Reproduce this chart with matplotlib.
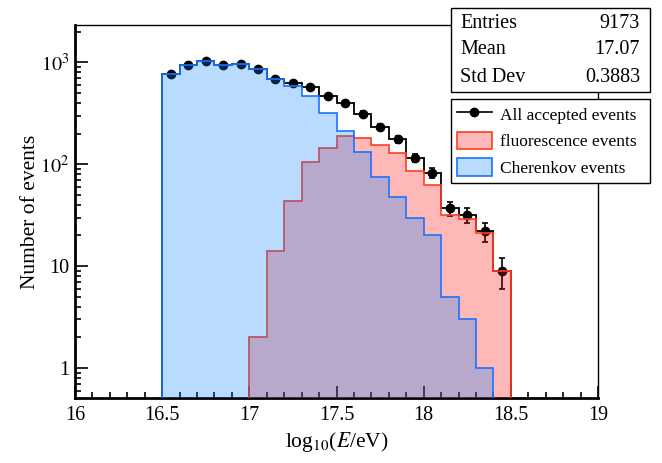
import numpy as np
import matplotlib
matplotlib.use("Agg")
from matplotlib import pyplot as plt
from matplotlib.lines import Line2D
from matplotlib.patches import Patch, Rectangle
from matplotlib.ticker import FixedLocator, FixedFormatter, MultipleLocator, LogLocator, NullFormatter

plt.rcParams['font.family'] = ['Liberation Serif', 'DejaVu Serif']
plt.rcParams['mathtext.fontset'] = 'stix'

# histogram contents, bin width 0.1 in log10(E/eV)
cherenkov_start = 16.5
cherenkov_counts = [772, 940, 1028, 953, 961, 869, 680, 591, 470, 321,
                    210, 132, 75, 48, 30, 20, 5, 3, 1]
fluor_start = 17.0
fluor_counts = [2, 14, 44, 105, 145, 190, 181, 156, 128, 85, 63, 32, 29, 21, 9]
bin_width = 0.1

x_ticks = [16, 16.5, 17, 17.5, 18, 18.5, 19]
x_ticklabels = ["16", "16.5", "17", "17.5", "18", "18.5", "19"]
y_ticks = [1, 10, 100, 1000]
y_ticklabels = ["1", "10", "$10^2$", "$10^3$"]

stats_labels = ["Entries", "Mean", "Std Dev"]
stats_values = ["9173", "17.07", "0.3883"]
legend_labels = ["All accepted events", "fluorescence events", "Cherenkov events"]

blue_line = (0.1, 0.45, 1.0)
blue_fill = (0.0, 0.5, 1.0, 0.28)
red_line = (1.0, 0.24, 0.12)
red_fill = (1.0, 0.0, 0.0, 0.28)

cher = np.array(cherenkov_counts, dtype=float)
fluor = np.array(fluor_counts, dtype=float)
cher_edges = cherenkov_start + bin_width * np.arange(len(cher) + 1)
fluor_edges = fluor_start + bin_width * np.arange(len(fluor) + 1)

# total = sum of both classes on the common binning
all_edges = np.round(np.arange(16.5, 18.5 + 1e-9, bin_width), 2)
total = np.zeros(len(all_edges) - 1)
i0 = int(round((cherenkov_start - 16.5) / bin_width))
total[i0:i0 + len(cher)] += cher
i1 = int(round((fluor_start - 16.5) / bin_width))
total[i1:i1 + len(fluor)] += fluor
centers = 0.5 * (all_edges[:-1] + all_edges[1:])

fig = plt.figure(figsize=(6.62, 4.63), dpi=100)
ax = fig.add_axes([75 / 662, 65 / 463, 523 / 662, 373 / 463])

base = 1e-3
# black histogram first, fills go over it with transparency
ax.stairs(total, all_edges, baseline=base, color='black', lw=1.3, zorder=1)
ax.errorbar(centers, total, yerr=np.sqrt(total), fmt='o', color='black',
            ms=6, lw=1.2, capsize=2.5, capthick=1.2, zorder=2)

ax.stairs(fluor, fluor_edges, baseline=base, fill=True, facecolor=red_fill,
          edgecolor='none', zorder=3)
ax.stairs(fluor, fluor_edges, baseline=base, color=red_line, lw=1.2, zorder=4)
ax.stairs(cher, cher_edges, baseline=base, fill=True, facecolor=blue_fill,
          edgecolor='none', zorder=5)
ax.stairs(cher, cher_edges, baseline=base, color=blue_line, lw=1.2, zorder=6)

ax.set_xlim(16, 19)
ax.set_yscale('log')
ax.set_ylim(0.508, 2330)

ax.xaxis.set_major_locator(FixedLocator(x_ticks))
ax.xaxis.set_major_formatter(FixedFormatter(x_ticklabels))
ax.xaxis.set_minor_locator(MultipleLocator(0.1))
ax.yaxis.set_major_locator(FixedLocator(y_ticks))
ax.yaxis.set_major_formatter(FixedFormatter(y_ticklabels))
ax.yaxis.set_minor_locator(LogLocator(base=10, subs=np.arange(2, 10)))
ax.yaxis.set_minor_formatter(NullFormatter())
ax.tick_params(which='both', direction='in', top=False, right=False, labelsize=14.5)
ax.tick_params(which='major', length=9, width=1.2)
ax.tick_params(which='minor', length=4.5, width=1.2)
ax.tick_params(axis='x', pad=6)
ax.tick_params(axis='y', pad=4)

for side in ['left', 'bottom']:
    ax.spines[side].set_linewidth(2)
for side in ['top', 'right']:
    ax.spines[side].set_linewidth(1)

ax.set_xlabel(r"log$_{10}$($\mathit{E}$/eV)", fontsize=15.5, labelpad=3)
ax.set_ylabel("Number of events", fontsize=15.5, labelpad=0)

# stats box
sx0, sx1 = 451 / 662, 650 / 662
sy0, sy1 = 1 - 92 / 463, 1 - 8 / 463
fig.patches.append(Rectangle((sx0, sy0), sx1 - sx0, sy1 - sy0, transform=fig.transFigure,
                             facecolor='white', edgecolor='black', lw=1, zorder=10))
for k, (lab, val) in enumerate(zip(stats_labels, stats_values)):
    yy = 1 - (23 + 27 * k) / 463
    fig.text(460 / 662, yy, lab, fontsize=14.5, va='center', ha='left', zorder=11)
    fig.text(640 / 662, yy, val, fontsize=14.5, va='center', ha='right', zorder=11)

handles = [
    Line2D([], [], color='black', marker='o', ms=6, lw=1.2),
    Patch(facecolor=(1.0, 0.72, 0.72), edgecolor=red_line, lw=1.2),
    Patch(facecolor=(0.72, 0.86, 1.0), edgecolor=blue_line, lw=1.2),
]
leg = fig.legend(handles, legend_labels, loc='lower left',
                 bbox_to_anchor=(sx0, 1 - 183 / 463, sx1 - sx0, 91 / 463),
                 bbox_transform=fig.transFigure, mode='expand', borderaxespad=0,
                 fontsize=12.5, handlelength=2.0, handleheight=1.2,
                 handletextpad=0.5, labelspacing=0.45, borderpad=0.35,
                 fancybox=False, framealpha=1, edgecolor='black')
leg.get_frame().set_linewidth(1)
leg.set_zorder(12)

fig.savefig("out.png", dpi=100)
